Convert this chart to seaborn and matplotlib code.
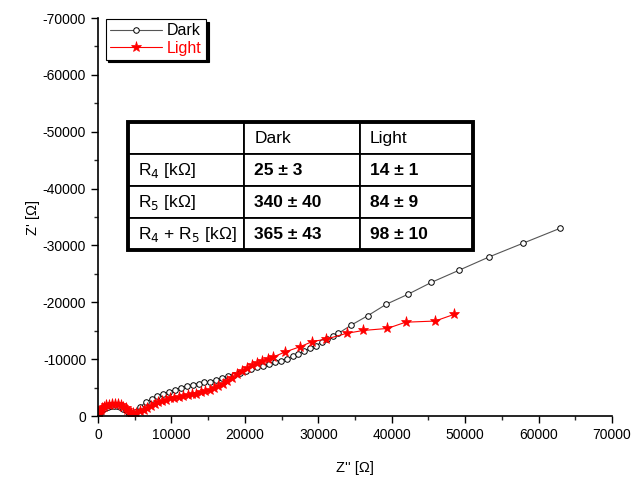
import matplotlib
matplotlib.use('Agg')
import matplotlib.pyplot as plt
from matplotlib.patches import Rectangle
from matplotlib.ticker import MultipleLocator
import seaborn as sns
import pandas as pd

# Nyquist data (Z'' along x, Z' along y)
dark_x = [100, 250, 450, 700, 1000, 1350, 1750, 2150, 2600, 3000, 3400, 3750, 4050, 4300,
          4550, 5000, 5700, 6500, 7300, 8100, 8900, 9700, 10500, 11300, 12100, 12900, 13700,
          14500, 15300, 16100, 16900, 17700, 18500, 19300, 20100, 20900, 21700, 22500, 23300,
          24100, 24900, 25700, 26500, 27300, 28100, 28900, 29700, 30500, 31200, 32000, 32750,
          34500, 36750, 39250, 42200, 45400, 49100, 53300, 57900, 62900]
dark_y = [-250, -550, -850, -1150, -1400, -1600, -1720, -1750, -1700, -1550, -1300, -1000, -650, -350,
          -300, -700, -1600, -2400, -3000, -3500, -3900, -4250, -4600, -4950, -5250, -5500, -5700,
          -5900, -6050, -6300, -6600, -6950, -7300, -7650, -7950, -8250, -8550, -8850, -9150,
          -9450, -9750, -10100, -10500, -10900, -11400, -11900, -12400, -13000, -13550, -14000, -14550,
          -16000, -17650, -19650, -21400, -23500, -25600, -28000, -30400, -33000]

light_x = [80, 200, 380, 600, 850, 1150, 1500, 1900, 2300, 2700, 3100, 3450, 3750, 4000, 4250, 4500,
           4800, 5200, 5700, 6200, 6700, 7200, 7700, 8200, 8700, 9200, 9800, 10400, 11000, 11600,
           12200, 12800, 13400, 14000, 14600, 15200, 15800, 16400, 17000, 17600, 18200, 18900,
           19600, 20300, 21000, 21700, 22400, 23100, 23900, 25450, 27550, 29200, 31000, 33900,
           36150, 39400, 41900, 45900, 48550]
light_y = [-300, -650, -1000, -1350, -1650, -1850, -2000, -2080, -2100, -2050, -1900, -1650, -1350, -1050, -750, -600,
           -550, -600, -800, -1100, -1450, -1800, -2150, -2450, -2700, -2900, -3100, -3250, -3400, -3500,
           -3650, -3800, -3950, -4150, -4350, -4550, -4900, -5300, -5700, -6150, -6700, -7400,
           -8000, -8500, -8900, -9300, -9700, -10000, -10400, -11250, -12200, -13100, -13500, -14550,
           -15050, -15400, -16500, -16700, -17900]

table_cols = ['', 'Dark', 'Light']
table_rows = [['R$_4$ [kΩ]', '25 ± 3', '14 ± 1'],
              ['R$_5$ [kΩ]', '340 ± 40', '84 ± 9'],
              ['R$_4$ + R$_5$ [kΩ]', '365 ± 43', '98 ± 10']]

sns.set_style('ticks')
plt.rcParams['font.family'] = ['Liberation Sans', 'DejaVu Sans']
plt.rcParams['axes.unicode_minus'] = False

fig = plt.figure(figsize=(6.31, 4.79), dpi=100)
ax = fig.add_axes([0.1553, 0.1315, 0.8146, 0.8309])

dark = pd.DataFrame({'x': dark_x, 'y': dark_y})
light = pd.DataFrame({'x': light_x, 'y': light_y})

sns.lineplot(data=dark, x='x', y='y', sort=False, estimator=None, ax=ax,
             color='#555555', linewidth=0.8, marker='o', markersize=4,
             markerfacecolor='white', markeredgecolor='black', markeredgewidth=0.7,
             label='Dark')
sns.lineplot(data=light, x='x', y='y', sort=False, estimator=None, ax=ax,
             color='red', linewidth=0.8, marker='*', markersize=8,
             markerfacecolor='red', markeredgecolor='red', markeredgewidth=0.5,
             label='Light')

ax.set_xlim(0, 70000)
ax.set_ylim(0, -70000)
ax.xaxis.set_major_locator(MultipleLocator(10000))
ax.xaxis.set_minor_locator(MultipleLocator(5000))
ax.yaxis.set_major_locator(MultipleLocator(10000))
ax.yaxis.set_minor_locator(MultipleLocator(5000))
ax.tick_params(which='major', direction='out', length=5, width=1, labelsize=10, colors='black')
ax.tick_params(which='minor', direction='out', length=3, width=1)
for s in ['top', 'right']:
    ax.spines[s].set_visible(False)
for s in ['left', 'bottom']:
    ax.spines[s].set_linewidth(1.2)
    ax.spines[s].set_color('black')

ax.set_xlabel("Z'' [Ω]", fontsize=10.5, labelpad=14, color='black')
ax.set_ylabel("Z' [Ω]", fontsize=10.5, labelpad=2, color='black')

leg = ax.legend(loc='upper left', bbox_to_anchor=(0.015, 0.997), borderaxespad=0,
                fancybox=False, frameon=True, edgecolor='black', fontsize=11.5,
                shadow={'color': 'black', 'alpha': 1}, handlelength=3.3,
                handletextpad=0.3, borderpad=0.25, labelspacing=0.15)
leg.get_frame().set_linewidth(0.8)
leg.get_texts()[0].set_color('black')
leg.get_texts()[1].set_color('red')

# parameter table
tbl = ax.table(cellText=table_rows, colLabels=table_cols, cellLoc='left', colLoc='left',
               colWidths=[0.336, 0.336, 0.328],
               bbox=[0.0584, 0.4171, 0.6712, 0.3216])
tbl.auto_set_font_size(False)
tbl.set_fontsize(12.5)
for (r, c), cell in tbl.get_celld().items():
    cell.PAD = 0.09
    cell.set_linewidth(1.3)
    cell.set_edgecolor('black')
    cell.get_text().set_color('black')
    if r > 0 and c > 0:
        cell.get_text().set_fontweight('bold')
ax.add_patch(Rectangle((0.0584, 0.4171), 0.6712, 0.3216, transform=ax.transAxes,
                       fill=False, edgecolor='black', linewidth=2.8, zorder=10))

fig.savefig('out.png', dpi=100)
